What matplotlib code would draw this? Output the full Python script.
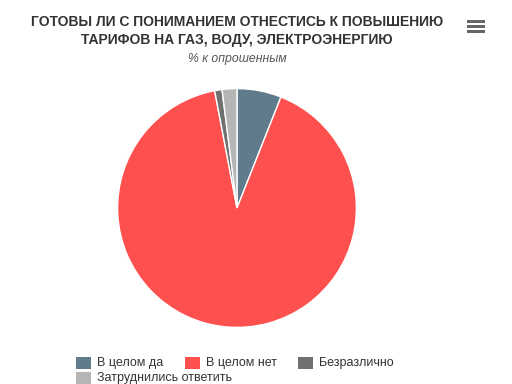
import matplotlib.pyplot as plt
from matplotlib.patches import Rectangle

plt.rcParams['font.family'] = ['Liberation Sans', 'DejaVu Sans']

# данные опроса
labels = ['В целом да', 'В целом нет', 'Безразлично', 'Затруднились ответить']
values = [6, 91, 1, 2]
colors = ['#5f7b8c', '#ff5050', '#707070', '#b5b5b5']

W, H = 512, 384
fig = plt.figure(figsize=(W / 100, H / 100), dpi=100)

# заголовок
fig.text(237 / W, 1 - 31 / H, 'ГОТОВЫ ЛИ С ПОНИМАНИЕМ ОТНЕСТИСЬ К ПОВЫШЕНИЮ\nТАРИФОВ НА ГАЗ, ВОДУ, ЭЛЕКТРОЭНЕРГИЮ',
         ha='center', va='center', fontsize=10, fontweight='bold', color='#333333', linespacing=1.45)
fig.text(237 / W, 1 - 59 / H, '% к опрошенным', ha='center', va='center',
         fontsize=8.8, style='italic', color='#555555')

# круговая диаграмма
cx, cy, r = 237, 208, 120
ax = fig.add_axes([(cx - r) / W, 1 - (cy + r) / H, 2 * r / W, 2 * r / H])
ax.pie(values, colors=colors, startangle=90, counterclock=False,
       wedgeprops=dict(edgecolor='white', linewidth=1))
ax.set_xlim(-1.005, 1.005)
ax.set_ylim(-1.005, 1.005)
ax.set_aspect('equal')

# меню (иконка)
for yy in (20, 25, 30):
    fig.patches.append(Rectangle((467 / W, 1 - (yy + 3) / H), 18 / W, 3 / H,
                                 transform=fig.transFigure, facecolor='#666666', linewidth=0))

# легенда
leg_pos = [(76, 363), (185, 363), (298, 363), (76, 378)]
for (x, y), lab, col in zip(leg_pos, labels, colors):
    fig.patches.append(Rectangle((x / W, 1 - (y + 6) / H), 15 / W, 12 / H,
                                 transform=fig.transFigure, facecolor=col, linewidth=0))
    fig.text((x + 21) / W, 1 - y / H, lab, ha='left', va='center',
             fontsize=9, color='#333333')

fig.savefig('out.png', dpi=100)
